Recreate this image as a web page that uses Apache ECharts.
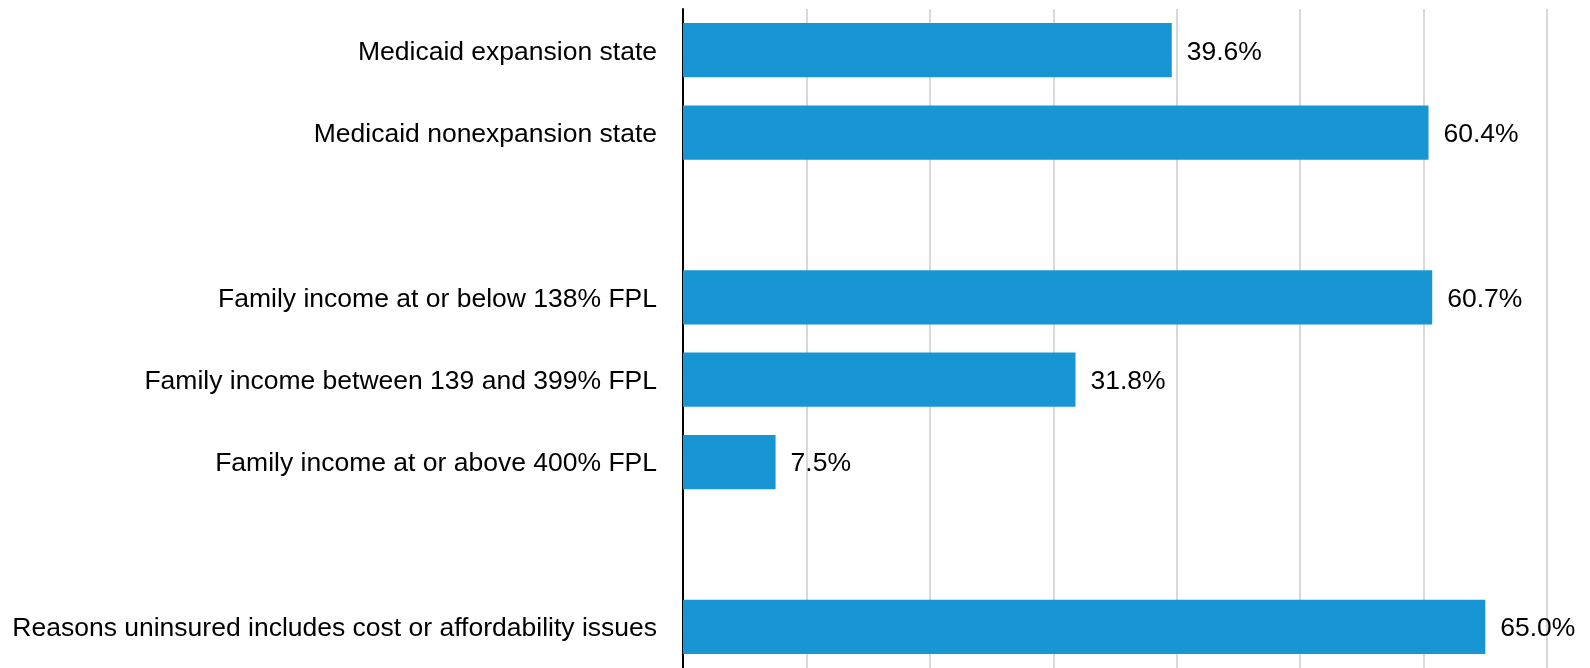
<!DOCTYPE html>
<html>
<head>
<meta charset="utf-8">
<script src="https://cdn.jsdelivr.net/npm/echarts@6/dist/echarts.min.js"></script>
<style>
html,body{margin:0;padding:0;background:#fff;}
#chart{width:1590px;height:668px;}
</style>
</head>
<body>
<div id="chart"></div>
<script>
var categories = [
  'Medicaid expansion state',
  'Medicaid nonexpansion state',
  ' ',
  'Family income at or below 138% FPL',
  'Family income between 139 and 399% FPL',
  'Family income at or above 400% FPL',
  '  ',
  'Reasons uninsured includes cost or affordability issues'
];
var values = [39.6, 60.4, null, 60.7, 31.8, 7.5, null, 65.0];

var chart = echarts.init(document.getElementById('chart'), null, {renderer: 'canvas'});
chart.setOption({
  animation: false,
  backgroundColor: '#ffffff',
  grid: {left: 683, right: 43, top: 9, height: 663, containLabel: false},
  xAxis: {
    type: 'value', min: 0, max: 70, interval: 10,
    axisLine: {show: false}, axisTick: {show: false}, axisLabel: {show: false},
    splitLine: {show: true, lineStyle: {color: '#D9D9D9', width: 2}}
  },
  yAxis: {
    type: 'category', inverse: true, data: categories,
    axisLine: {show: true, lineStyle: {color: '#000000', width: 2}},
    axisTick: {show: false},
    axisLabel: {
      margin: 26, color: '#000000', fontFamily: 'Liberation Sans, Arial, sans-serif', fontSize: 26.5,
      formatter: function (v) { return '{a|' + v + '}'; },
      rich: {a: {color: '#000000', fontFamily: 'Liberation Sans, Arial, sans-serif', fontSize: 26.5, padding: [4, 0, 0, 0]}}
    }
  },
  series: [{
    type: 'bar', data: values, barWidth: '66%',
    itemStyle: {color: '#1896D3'},
    label: {
      show: true, position: 'right', distance: 15, color: '#000000',
      fontFamily: 'Liberation Sans, Arial, sans-serif', fontSize: 26.5, offset: [0, 2],
      formatter: function (p) { return p.value == null ? '' : p.value.toFixed(1) + '%'; }
    }
  }]
});
</script>
</body>
</html>
